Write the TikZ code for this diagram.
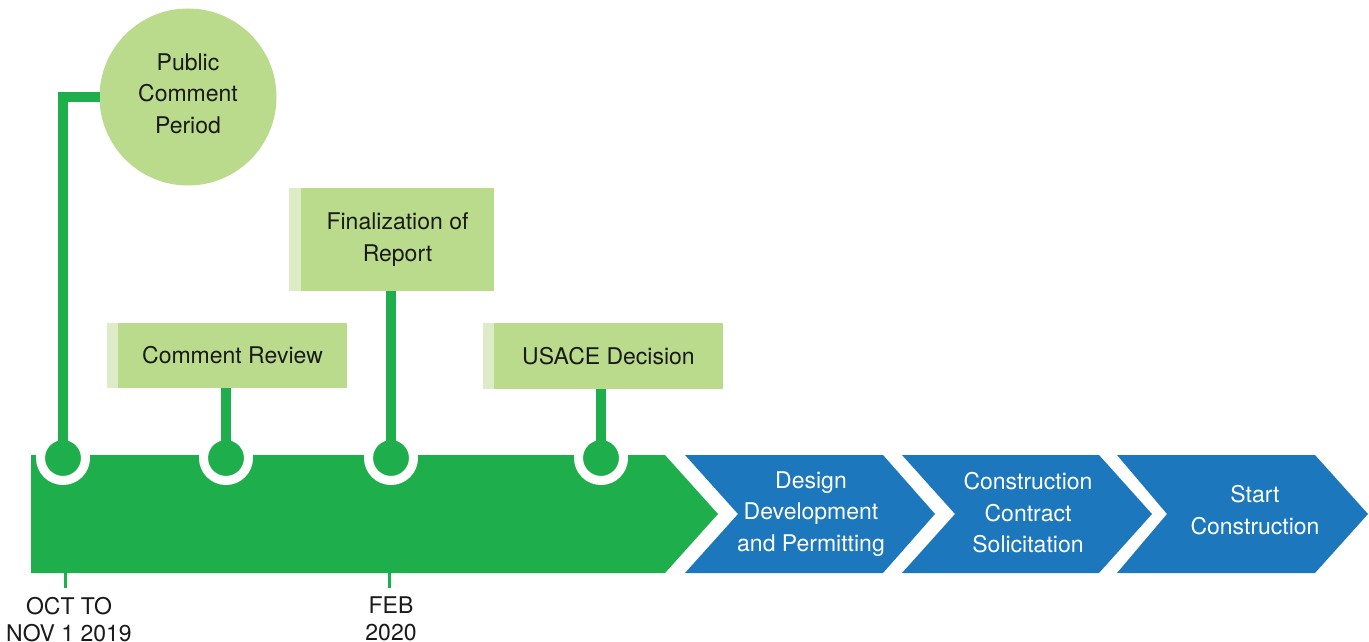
\documentclass[tikz,border=0pt]{standalone}
\usepackage{fontspec}
\setmainfont{TeX Gyre Heros}
\definecolor{gbar}{HTML}{1EAE4B}
\definecolor{lgreen}{HTML}{BADA8C}
\definecolor{stripec}{HTML}{DDEBC7}
\definecolor{cblue}{HTML}{1C77BC}
\definecolor{ink}{HTML}{1A1A1A}
\begin{document}
\begin{tikzpicture}[x=1pt,y=-1pt,
  txt/.style={font=\fontsize{23}{31.5}\selectfont, align=center, inner sep=0pt, outer sep=0pt},
  box/.style={txt, fill=lgreen, text=ink},
  marker/.style={circle, fill=gbar, draw=white, line width=9pt, minimum size=45pt, inner sep=0pt},
  stem/.style={draw=gbar, line width=9.5pt},
  chev/.style={fill=cblue},
  wtxt/.style={txt, text=white},
  datetxt/.style={txt, font=\fontsize{23}{27}\selectfont, text=ink},
  tick/.style={draw=gbar, line width=3pt}]
\useasboundingbox (0,0) rectangle (1369,642);

% green timeline bar
\fill[gbar] (31,455) -- (665,455) -- (718,514) -- (665,573) -- (31,573) -- cycle;

% blue chevrons
\fill[chev] (685,455) -- (883,455) -- (935,514) -- (883,573) -- (685,573) -- (738,514) -- cycle;
\fill[chev] (902,455) -- (1099,455) -- (1152,514) -- (1099,573) -- (902,573) -- (955,514) -- cycle;
\fill[chev] (1117,455) -- (1315,455) -- (1368,514) -- (1315,573) -- (1117,573) -- (1167,514) -- cycle;
\node[wtxt] (c1) at (811,514) {Design\\Development\\and Permitting};
\node[wtxt] (c2) at (1028,513) {Construction\\Contract\\Solicitation};
\node[wtxt] (c3) at (1255,510) {Start\\Construction};

% markers
\node[marker] (m1) at (63,458) {};
\node[marker] (m2) at (226,458) {};
\node[marker] (m3) at (391,458) {};
\node[marker] (m4) at (601,458) {};

% public comment circle
\node[circle, fill=lgreen, minimum size=177pt, txt, text=ink] (pc) at (188,97) {};
\node[txt, text=ink] (pct) at (188,93.5) {Public\\Comment\\Period};

% boxes
\node[box, minimum width=229pt, minimum height=65pt] (cr) at (232.5,355.5) {Comment Review};
\fill[stripec] (cr.north west) rectangle ([xshift=-11pt]cr.south west);
\node[box, minimum width=193pt, minimum height=103pt] (fr) at (397.5,239.5) {Finalization of\\Report};
\fill[stripec] (fr.north west) rectangle ([xshift=-12pt]fr.south west);
\node[box, minimum width=229pt, minimum height=66pt] (ud) at (608.5,356) {USACE Decision};
\fill[stripec] (ud.north west) rectangle ([xshift=-11pt]ud.south west);

% stems
\draw[stem] (m1.center) |- (pc.west);
\draw[stem] (m2.center) -- (m2.center |- cr.south);
\draw[stem] (m3.center) -- (m3.center |- fr.south);
\draw[stem] (m4.center) -- (m4.center |- ud.south);

% date ticks and labels
\coordinate (t1) at (65,573);
\coordinate (t1b) at (65,588);
\coordinate (t2) at (389,573);
\coordinate (t2b) at (389,588);
\draw[tick] (t1) -- (t1b);
\draw[tick] (t2) -- (t2b);
\node[datetxt, anchor=north] (d1) at (69,597) {OCT TO\\NOV 1 2019};
\node[datetxt, anchor=north] (d2) at (391,597) {FEB\\2020};
\end{tikzpicture}
\end{document}
